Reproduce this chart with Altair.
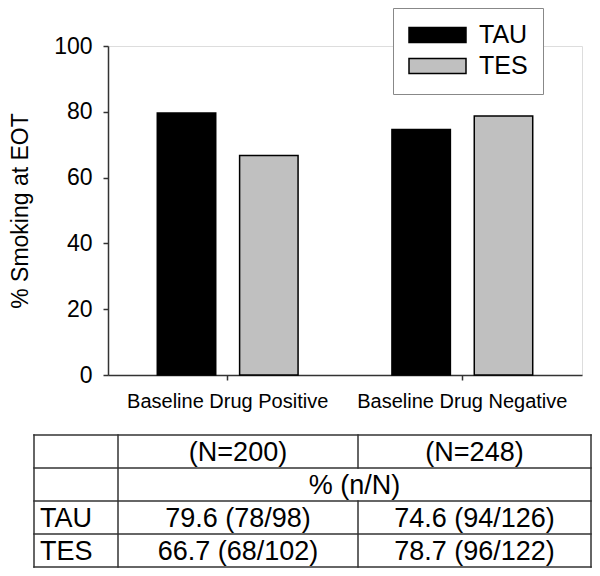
import altair as alt
import pandas as pd

# ---- data ----
groups = ["Baseline Drug Positive", "Baseline Drug Negative"]
treatments = ["TAU", "TES"]
group_N = [200, 248]
tau_pct = [79.6, 74.6]
tes_pct = [66.7, 78.7]
tau_n = [78, 94]
tau_d = [98, 126]
tes_n = [68, 96]
tes_d = [102, 122]
colors = ["#000000", "#c0c0c0"]
y_ticks = [0, 20, 40, 60, 80, 100]
table_header = "% (n/N)"

FONT = "Liberation Sans"

# ---- bars ----
rows = []
for i, g in enumerate(groups):
    rows.append({"group": g, "treatment": "TAU", "pct": tau_pct[i]})
    rows.append({"group": g, "treatment": "TES", "pct": tes_pct[i]})
bars_df = pd.DataFrame(rows)

legend = alt.Legend(
    title=None, orient="none", legendX=285, legendY=-38,
    symbolType="M-1,-0.265H1V0.265H-1Z", symbolSize=3249,
    symbolStrokeColor="black", symbolStrokeWidth=1.5, symbolOpacity=1,
    labelFont=FONT, labelFontSize=25, labelColor="black", labelOffset=12,
    strokeColor="#888888", fillColor="white", padding=15, rowPadding=6,
    clipHeight=24,
)

bars = alt.Chart(bars_df).mark_bar(stroke="black", strokeWidth=1.5, opacity=1).encode(
    x=alt.X("group:N", sort=groups,
            scale=alt.Scale(paddingInner=0.4, paddingOuter=0.21),
            axis=alt.Axis(title=None, labelAngle=0, labelFont=FONT, labelFontSize=20,
                          labelLimit=400, labelColor="black", tickSize=5,
                          tickColor="#333333", tickWidth=1.5,
                          domainColor="#333333", domainWidth=1.5, labelPadding=11, grid=False)),
    xOffset=alt.XOffset("treatment:N", sort=treatments,
                        scale=alt.Scale(paddingInner=0.29, paddingOuter=0)),
    y=alt.Y("pct:Q", scale=alt.Scale(domain=[0, 100], nice=False),
            axis=alt.Axis(values=y_ticks, title="% Smoking at EOT", titleFont=FONT,
                          titleFontSize=23, titleFontWeight="normal", titleColor="black",
                          titlePadding=21, labelFont=FONT, labelFontSize=23, labelColor="black",
                          tickSize=5, tickColor="#333333", tickWidth=1.5,
                          domainColor="#333333", domainWidth=1.5, labelPadding=11, grid=False)),
    color=alt.Color("treatment:N", sort=treatments,
                    scale=alt.Scale(domain=treatments, range=colors), legend=legend),
)

# ---- table ----
col_w = [84, 240, 233]
edges = [0, col_w[0], col_w[0] + col_w[1], sum(col_w)]
n_rows = 4
tx = alt.Scale(domain=[0, edges[3]], range=[-74, -74 + edges[3]])
ty = alt.Scale(domain=[0, n_rows], range=[389, 521])

lines = []
for r in range(n_rows + 1):
    lines.append({"x": 0, "x2": edges[3], "y": r, "y2": r})
for e in [edges[0], edges[1], edges[3]]:
    lines.append({"x": e, "x2": e, "y": 0, "y2": n_rows})
lines.append({"x": edges[2], "x2": edges[2], "y": 0, "y2": 1})
lines.append({"x": edges[2], "x2": edges[2], "y": 2, "y2": n_rows})
lines_df = pd.DataFrame(lines)

c1 = (edges[1] + edges[2]) / 2
c2 = (edges[2] + edges[3]) / 2
centers = [
    {"x": c1, "y": 0.5, "label": f"(N={group_N[0]})"},
    {"x": c2, "y": 0.5, "label": f"(N={group_N[1]})"},
    {"x": (edges[1] + edges[3]) / 2, "y": 1.5, "label": table_header},
    {"x": c1, "y": 2.5, "label": f"{tau_pct[0]} ({tau_n[0]}/{tau_d[0]})"},
    {"x": c2, "y": 2.5, "label": f"{tau_pct[1]} ({tau_n[1]}/{tau_d[1]})"},
    {"x": c1, "y": 3.5, "label": f"{tes_pct[0]} ({tes_n[0]}/{tes_d[0]})"},
    {"x": c2, "y": 3.5, "label": f"{tes_pct[1]} ({tes_n[1]}/{tes_d[1]})"},
]
lefts = [
    {"x": 6, "y": 2.5, "label": treatments[0]},
    {"x": 6, "y": 3.5, "label": treatments[1]},
]

rules = alt.Chart(lines_df).mark_rule(color="#333333", strokeWidth=1.5, strokeCap="square").encode(
    x=alt.X("x:Q", scale=tx, axis=None), x2="x2:Q",
    y=alt.Y("y:Q", scale=ty, axis=None), y2="y2:Q",
)
ctext = alt.Chart(pd.DataFrame(centers)).mark_text(
    font=FONT, fontSize=27, color="black", align="center", baseline="middle", dy=1
).encode(
    x=alt.X("x:Q", scale=tx, axis=None), y=alt.Y("y:Q", scale=ty, axis=None), text="label:N"
)
ltext = alt.Chart(pd.DataFrame(lefts)).mark_text(
    font=FONT, fontSize=27, color="black", align="left", baseline="middle", dy=1
).encode(
    x=alt.X("x:Q", scale=tx, axis=None), y=alt.Y("y:Q", scale=ty, axis=None), text="label:N"
)
table = alt.layer(rules, ctext, ltext)

chart = alt.layer(bars, table).resolve_scale(x="independent", y="independent").properties(
    width=474, height=329,
    autosize=alt.AutoSizeParams(type="none"),
    padding={"left": 100, "top": 38, "right": 10, "bottom": 193},
).configure_view(stroke=None).configure(background="white")

chart.save("out.html", embed_options={"renderer": "svg", "actions": False})
